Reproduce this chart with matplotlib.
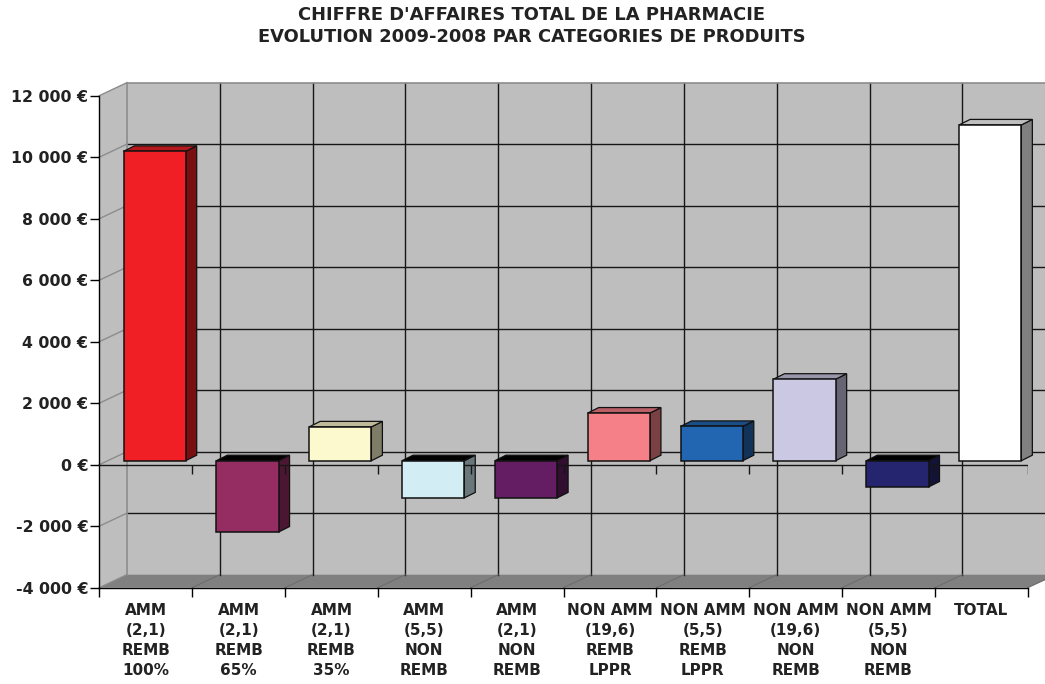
import numpy as np
import matplotlib
matplotlib.use("Agg")
import matplotlib.pyplot as plt
from matplotlib.patches import Polygon

# data
categories = ["AMM\n(2,1)\nREMB\n100%", "AMM\n(2,1)\nREMB\n65%", "AMM\n(2,1)\nREMB\n35%",
              "AMM\n(5,5)\nNON\nREMB", "AMM\n(2,1)\nNON\nREMB", "NON AMM\n(19,6)\nREMB\nLPPR",
              "NON AMM\n(5,5)\nREMB\nLPPR", "NON AMM\n(19,6)\nNON\nREMB", "NON AMM\n(5,5)\nNON\nREMB",
              "TOTAL"]
values = [10060, -2320, 1100, -1210, -1210, 1550, 1115, 2650, -855, 10920]
front_colors = ["#f01f26", "#952c62", "#fdf9cf", "#d2edf4", "#641c62", "#f58088",
                "#2266b2", "#cbc8e4", "#25256f", "#ffffff"]
y_ticks = [-4000, -2000, 0, 2000, 4000, 6000, 8000, 10000, 12000]
y_labels = ["-4 000 €", "-2 000 €", "0 €", "2 000 €", "4 000 €", "6 000 €",
            "8 000 €", "10 000 €", "12 000 €"]

W, H = 1045, 684
X0, X_STEP = 99.3, 92.85      # pixel position of the front plane
Y_TOP, Y_BOT = 95.7, 587.7
PX_X = 1 / X_STEP             # one pixel in data units
PX_Y = 16000 / (Y_BOT - Y_TOP)

plt.rcParams["font.family"] = "DejaVu Sans"
plt.rcParams["font.weight"] = "bold"

fig = plt.figure(figsize=(W / 100, H / 100), dpi=100)
ax = fig.add_axes([X0 / W, 1 - Y_BOT / H, 10 * X_STEP / W, (Y_BOT - Y_TOP) / H])
ax.set_xlim(0, 10)
ax.set_ylim(-4000, 12000)
ax.patch.set_visible(False)
for side in ["top", "right"]:
    ax.spines[side].set_visible(False)
ax.spines["left"].set_linewidth(1.0)
ax.spines["bottom"].set_linewidth(1.0)
ax.spines["left"].set_zorder(2)

# depth of the walls
wx = 27.5 * PX_X
wy = 13 * PX_Y
far = 10 + 30 * PX_X

# left wall, back wall, floor
ax.add_patch(Polygon([(0, -4000), (wx, -4000 + wy), (wx, 12000 + wy), (0, 12000)],
                     fc="#bebebe", ec="none", clip_on=False, zorder=0))
ax.add_patch(Polygon([(wx, -4000 + wy), (far, -4000 + wy), (far, 12000 + wy), (wx, 12000 + wy)],
                     fc="#bebebe", ec="none", clip_on=False, zorder=0))
ax.add_patch(Polygon([(0, -4000), (wx, -4000 + wy), (far, -4000 + wy), (10, -4000)],
                     fc="#808080", ec="none", clip_on=False, zorder=0.5))

# grid on the back wall
for t in y_ticks:
    if t not in (-4000, 12000):
        ax.plot([wx, far], [t + wy, t + wy], color="#161616", lw=1.0, clip_on=False, zorder=1)
    ax.plot([0, wx], [t, t + wy], color="#8c8c8c", lw=1, clip_on=False, zorder=1)
for i in range(1, 11):
    ax.plot([i + wx, i + wx], [-4000 + wy, 12000 + wy], color="#161616", lw=1.0, clip_on=False, zorder=1)
    ax.plot([i, i + wx], [-4000, -4000 + wy], color="#6e6e6e", lw=0.8, clip_on=False, zorder=1)
ax.plot([wx, wx], [-4000 + wy, 12000 + wy], color="#8c8c8c", lw=1.2, clip_on=False, zorder=1)
ax.plot([wx, far], [12000 + wy, 12000 + wy], color="#8c8c8c", lw=1.2, clip_on=False, zorder=1)

# bars with their side and top faces
bar_x = np.arange(10) + 24.2 * PX_X
bar_w = 62.2 * PX_X
base = 4 * PX_Y
dx = 11 * PX_X
dy = 5.5 * PX_Y


def shade(color, k):
    rgb = np.array(matplotlib.colors.to_rgb(color))
    return tuple(rgb * k)


for x, v, c in zip(bar_x, values, front_colors):
    top = base + max(v, 0)
    bot = base + min(v, 0)
    top_color = shade(c, 0.75) if v > 0 else "#000000"
    ax.add_patch(Polygon([(x + bar_w, bot), (x + bar_w + dx, bot + dy), (x + bar_w + dx, top + dy), (x + bar_w, top)],
                         fc=shade(c, 0.5), ec="#111111", lw=0.9, clip_on=False, zorder=2))
    ax.add_patch(Polygon([(x, top), (x + dx, top + dy), (x + bar_w + dx, top + dy), (x + bar_w, top)],
                         fc=top_color, ec="#111111", lw=0.9, clip_on=False, zorder=2))

# zero line with its ticks, in front of the side faces
ax.plot([0, 10], [0, 0], color="#161616", lw=1.0, zorder=3)
ax.vlines(np.arange(1, 11), -9 * PX_Y, 0, color="#161616", lw=1.0, zorder=3)

ax.bar(bar_x, values, width=bar_w, bottom=base, align="edge", color=front_colors,
       edgecolor="#111111", linewidth=1.1, zorder=4)

# axes
ax.set_yticks(y_ticks)
ax.set_yticklabels(y_labels, fontsize=11.3, color="#222222")
ax.tick_params(axis="y", length=6.5, width=1.0, pad=1.5)
ax.set_xticks(np.arange(11))
ax.set_xticklabels([])
ax.tick_params(axis="x", length=6.5, width=1.0)
ax.set_xticks(np.arange(10) + 0.5, minor=True)
ax.set_xticklabels(categories, minor=True, fontsize=11, color="#222222", linespacing=1.43)
ax.tick_params(axis="x", which="minor", length=0, pad=11)

fig.text(532 / W, 1 - 26 / H, "CHIFFRE D'AFFAIRES TOTAL DE LA PHARMACIE\nEVOLUTION 2009-2008 PAR CATEGORIES DE PRODUITS",
         ha="center", va="center", fontsize=12.9, color="#222222", linespacing=1.32)

fig.savefig("out.png", dpi=100)
